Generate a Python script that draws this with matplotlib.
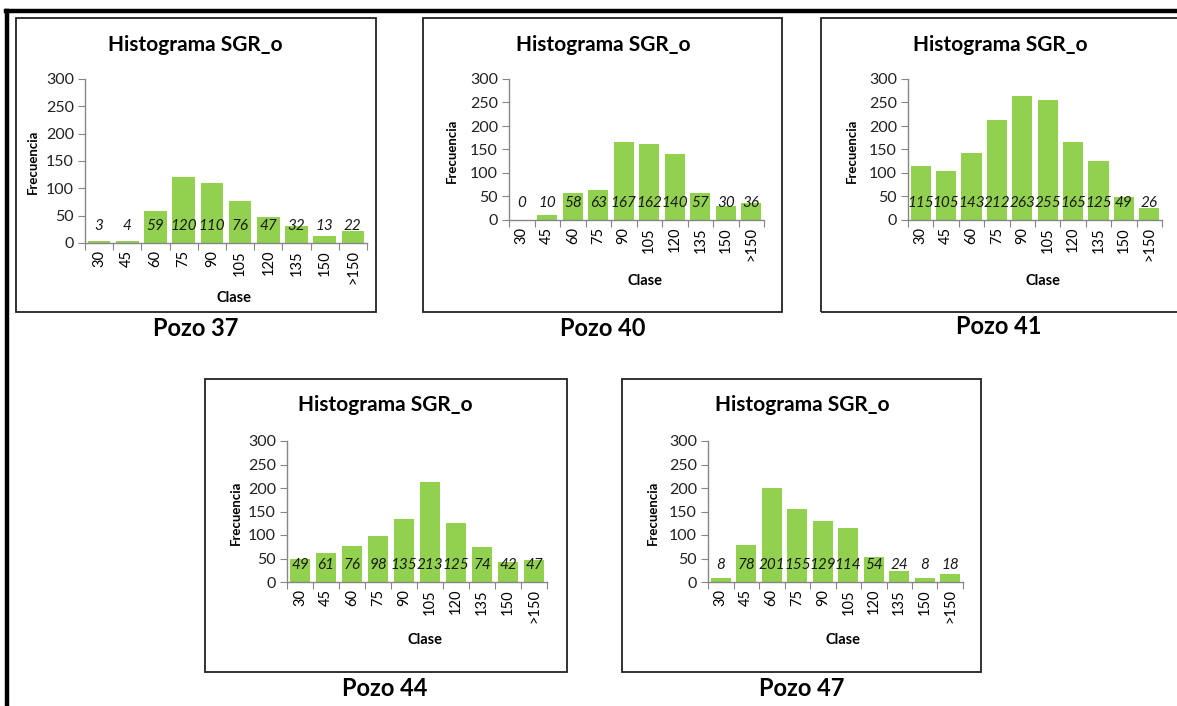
import numpy as np
import matplotlib
matplotlib.use("Agg")
import matplotlib.pyplot as plt
from matplotlib.patches import Rectangle
from matplotlib.lines import Line2D

plt.rcParams['font.family'] = ['Lato', 'DejaVu Sans']

# Data
clases = ['30', '45', '60', '75', '90', '105', '120', '135', '150', '>150']
pozos = ['Pozo 37', 'Pozo 40', 'Pozo 41', 'Pozo 44', 'Pozo 47']
frec_37 = [3, 4, 59, 120, 110, 76, 47, 32, 13, 22]
frec_40 = [0, 10, 58, 63, 167, 162, 140, 57, 30, 36]
frec_41 = [115, 105, 143, 212, 263, 255, 165, 125, 49, 26]
frec_44 = [49, 61, 76, 98, 135, 213, 125, 74, 42, 47]
frec_47 = [8, 78, 201, 155, 129, 114, 54, 24, 8, 18]
series = [frec_37, frec_40, frec_41, frec_44, frec_47]

W, H = 1177, 706
fig = plt.figure(figsize=(W / 100, H / 100), dpi=100)


def fx(x):
    return x / W


def fy(y):
    return 1 - y / H


# layout in pixels: axes (left, right, top, bottom), box (x0, y0, x1, y1),
# title centre, pozo label centre, ylabel x, xlabel y
layout = [
    dict(ax=(85, 367, 79, 243), box=(16, 18, 376, 312), title=(195, 45), pozo=(196, 328), ylab=33, xlab=298),
    dict(ax=(509, 764, 79, 220), box=(423, 18, 782, 312), title=(603, 45), pozo=(603, 328), ylab=452, xlab=281),
    dict(ax=(908, 1162, 79, 220), box=(821, 18, 1185, 312), title=(1000, 45), pozo=(999, 327), ylab=852, xlab=281),
    dict(ax=(287, 547, 441, 582), box=(205, 379, 567, 672), title=(385, 405), pozo=(385, 688), ylab=236, xlab=640),
    dict(ax=(708, 963, 441, 582), box=(622, 379, 981, 672), title=(802, 405), pozo=(802, 688), ylab=653, xlab=640),
]

green = '#92D050'
grey = '#868686'

for vals, name, lay in zip(series, pozos, layout):
    l, r, t, b = lay['ax']
    ax = fig.add_axes([fx(l), fy(b), (r - l) / W, (b - t) / H])
    x = np.arange(len(clases))
    ax.bar(x, vals, width=0.8, color=green, edgecolor='none')
    for xi, v in zip(x, vals):
        ax.annotate(str(v), (xi, 0), xytext=(0, 12.5), textcoords='offset points',
                    ha='center', va='center', fontsize=11, style='italic', color='#1a1a1a')
    ax.set_xlim(-0.5, len(clases) - 0.5)
    ax.set_ylim(0, 300)
    ax.set_yticks(range(0, 301, 50))
    ax.set_xticks(np.arange(-0.5, len(clases), 1))
    ax.set_xticklabels([])
    ax.set_xticks(x, minor=True)
    ax.set_xticklabels(clases, minor=True, rotation=90, fontsize=10.5)
    ax.tick_params(axis='x', which='minor', length=0, pad=5)
    ax.tick_params(axis='x', which='major', length=5, color=grey, direction='out')
    ax.tick_params(axis='y', length=5, color=grey, labelsize=11.5, pad=3, labelcolor='#222222')
    for s in ['top', 'right']:
        ax.spines[s].set_visible(False)
    for s in ['left', 'bottom']:
        ax.spines[s].set_color(grey)
        ax.spines[s].set_linewidth(1)
    ax.set_facecolor('none')

    x0, y0, x1, y1 = lay['box']
    fig.patches.append(Rectangle((fx(x0), fy(y1)), (x1 - x0) / W, (y1 - y0) / H,
                                 transform=fig.transFigure, fill=False,
                                 edgecolor='#222222', linewidth=1.3))
    fig.text(fx(lay['title'][0]), fy(lay['title'][1]), 'Histograma SGR_o',
             ha='center', va='center', fontsize=15, fontweight='bold')
    fig.text(fx(lay['pozo'][0]), fy(lay['pozo'][1]), name,
             ha='center', va='center', fontsize=17, fontweight='bold')
    fig.text(fx(lay['ylab']), fy((t + b) / 2 + 1), 'Frecuencia', rotation=90,
             ha='center', va='center', fontsize=9.5, fontweight='bold')
    fig.text(fx((l + r) / 2 + 8), fy(lay['xlab']), 'Clase',
             ha='center', va='center', fontsize=10.5, fontweight='bold')

# outer frame (top and left)
fig.add_artist(Line2D([fx(6), 1.0], [fy(11), fy(11)], transform=fig.transFigure,
                      color='black', linewidth=3.2))
fig.add_artist(Line2D([fx(7), fx(7)], [fy(11), 0], transform=fig.transFigure,
                      color='black', linewidth=3.2))

fig.savefig('out.png', dpi=100)
